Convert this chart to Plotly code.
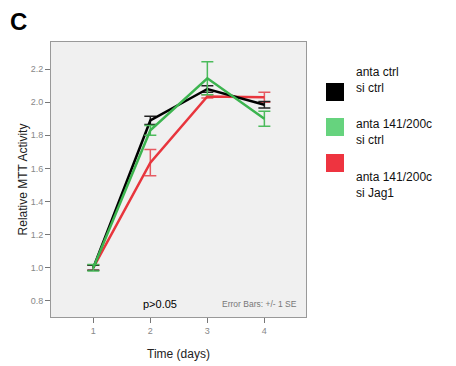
import plotly.graph_objects as go

days = [1, 2, 3, 4]
black_vals = [1.00, 1.89, 2.08, 1.985]
black_se = [0.015, 0.025, 0.02, 0.02]
green_vals = [1.00, 1.83, 2.145, 1.90]
green_se = [0.02, 0.03, 0.10, 0.045]
red_vals = [1.00, 1.635, 2.035, 2.03]
red_se = [0.015, 0.08, 0.01, 0.03]
series_names = ["anta ctrl<br>si ctrl", "anta 141/200c<br>si ctrl", "anta 141/200c<br>si Jag1"]
y_ticks = [0.8, 1.0, 1.2, 1.4, 1.6, 1.8, 2.0, 2.2]
x_ticks = [1, 2, 3, 4]

fig = go.Figure()

def add(vals, se, line_col, err_col, name):
    fig.add_trace(go.Scatter(
        x=days, y=vals, mode="lines", name=name,
        line=dict(color=line_col, width=2.5),
        error_y=dict(type="data", array=se, visible=True, color=err_col, thickness=1.5, width=6),
        showlegend=False))

add(red_vals, red_se, "#e8353d", "#e65a62", series_names[2])
add(black_vals, black_se, "#000000", "#222222", series_names[0])
add(green_vals, green_se, "#3cb44f", "#4cbb5c", series_names[1])

PL, PT, PW, PH = 51, 42, 255, 275  # plot area in screen pixels (page has 8px body margin)

fig.update_layout(
    width=448, height=358,
    margin=dict(l=43, r=150, t=34, b=49),
    paper_bgcolor="white", plot_bgcolor="#f0f0f0",
    font=dict(family="Arial, Liberation Sans, sans-serif", color="#000"),
    xaxis=dict(range=[0.258, 4.73], tickvals=x_ticks, ticks="outside", ticklen=5,
               tickcolor="#777", tickfont=dict(size=9, color="#888"), showgrid=False,
               zeroline=False, showline=True, linecolor="#999", mirror=True, automargin=False,
               title=dict(text="Time (days)", font=dict(size=12, color="#222"), standoff=14)),
    yaxis=dict(range=[0.702, 2.364], tickvals=y_ticks, ticktext=[f"{v:.1f}" for v in y_ticks],
               ticks="outside", ticklen=5, tickcolor="#777", tickfont=dict(size=9, color="#888"),
               showgrid=False, zeroline=False, showline=True, linecolor="#999", mirror=True,
               automargin=False,
               title=dict(text="Relative MTT Activity", font=dict(size=12, color="#222"), standoff=0)),
)

def px(x):
    return (x - PL) / PW

def py(y):
    return (PT + PH - y) / PH

# panel label
fig.add_annotation(x=px(8), y=py(6), xref="paper", yref="paper", xanchor="left", yanchor="top",
                   text="<b>C</b>", showarrow=False, font=dict(size=24, color="#000"))
# in-plot notes
fig.add_annotation(x=2.17, y=0.78, xref="x", yref="y", text="p>0.05", showarrow=False,
                   font=dict(size=11, color="#000"))
fig.add_annotation(x=4.6, y=0.78, xref="x", yref="y", xanchor="right", text="Error Bars: +/- 1 SE",
                   showarrow=False, font=dict(size=8.5, color="#777"))

# legend (manual)
leg = [("#000000", series_names[0], 92, 80), ("#66d37e", series_names[1], 127, 132),
       ("#ee3440", series_names[2], 163, 185)]
for col, txt, sq_y, txt_y in leg:
    fig.add_shape(type="rect", xref="paper", yref="paper",
                  x0=px(326), x1=px(344), y0=py(sq_y + 9), y1=py(sq_y - 9),
                  fillcolor=col, line=dict(width=0))
    fig.add_annotation(x=px(354), y=py(txt_y), xref="paper", yref="paper",
                       xanchor="left", yanchor="middle", align="left", text=txt, showarrow=False,
                       font=dict(size=12, color="#111"))

fig.write_html("out.html")
